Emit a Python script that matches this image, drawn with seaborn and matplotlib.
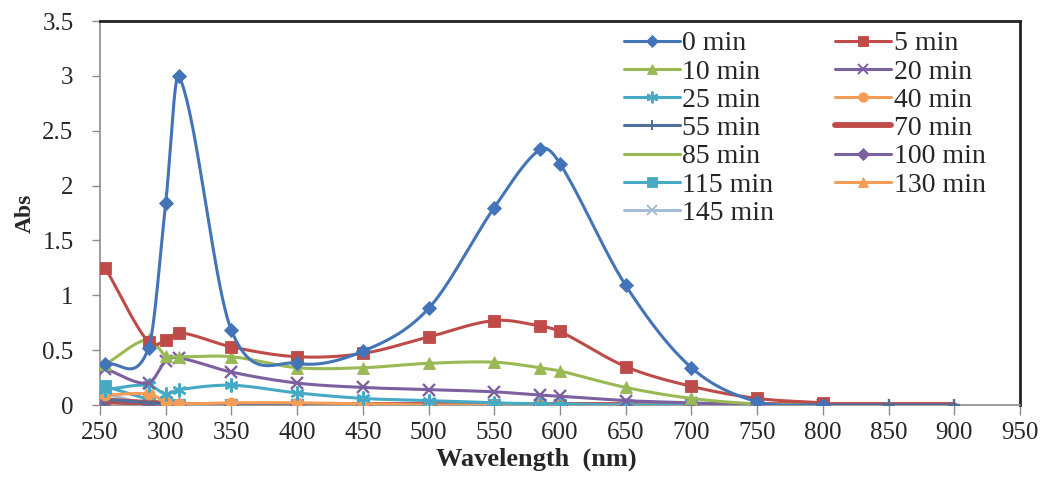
import numpy as np
import pandas as pd
import matplotlib
matplotlib.use("Agg")
import matplotlib.pyplot as plt
from matplotlib.lines import Line2D
import seaborn as sns

# Wavelengths (nm) at which absorbance was recorded
wl_full = [254, 287, 300, 310, 350, 400, 450, 500, 550, 585, 600, 650, 700, 750, 800]
wl_ext = wl_full + [850, 900]

# Absorbance per irradiation time
abs_0 = [0.37, 0.52, 1.84, 3.00, 0.68, 0.38, 0.49, 0.88, 1.80, 2.33, 2.20, 1.09, 0.34, 0.03, 0.00]
abs_5 = [1.25, 0.57, 0.59, 0.66, 0.53, 0.44, 0.47, 0.62, 0.77, 0.72, 0.67, 0.35, 0.17, 0.06, 0.02]
abs_10 = [0.37, 0.60, 0.45, 0.44, 0.44, 0.34, 0.34, 0.38, 0.39, 0.34, 0.31, 0.16, 0.06, 0.01, 0.00]
abs_20 = [0.33, 0.20, 0.40, 0.43, 0.30, 0.20, 0.16, 0.14, 0.12, 0.09, 0.08, 0.04, 0.02, 0.00, 0.00]
abs_25 = [0.14, 0.18, 0.10, 0.14, 0.18, 0.11, 0.06, 0.04, 0.02, 0.01, 0.01, 0.00, 0.00, 0.00, 0.00]
abs_40 = [0.09, 0.10, 0.03, 0.01, 0.02, 0.02, 0.01, 0.00, 0.00, 0.00, 0.00, 0.00, 0.00, 0.00, 0.00]
abs_55 = [0.05, 0.02, 0.01, 0.00, 0.00, 0.00, 0.00, 0.00, 0.00, 0.00, 0.00, 0.00, 0.00, 0.00, 0.00, 0.00, 0.00]
abs_70 = [0.04, 0.02, 0.01, 0.00, 0.00, 0.00, 0.00, 0.00, 0.00, 0.00, 0.00, 0.00, 0.00, 0.00, 0.00, 0.00, 0.00]
abs_85 = [0.03, 0.02, 0.01, 0.00, 0.00, 0.00, 0.00, 0.00, 0.00, 0.00, 0.00, 0.00, 0.00, 0.00, 0.00]
abs_100 = [0.03, 0.00, 0.00, 0.00, 0.00, 0.00, 0.00, 0.00, 0.00, 0.00, 0.00, 0.00, 0.00, 0.00, 0.00]
abs_115 = [0.17, 0.05, 0.01, 0.00, 0.00, 0.00, 0.00, 0.00, 0.00, 0.00, 0.00, 0.00, 0.00, 0.00, 0.00]
abs_130 = [0.02, 0.02, 0.01, 0.00, 0.00, 0.00, 0.00, 0.00, 0.00, 0.00, 0.00, 0.00, 0.00, 0.00, 0.00]
abs_145 = [0.10, 0.01, 0.01, 0.00, 0.00, 0.00, 0.00, 0.00, 0.00, 0.00, 0.00, 0.00, 0.00, 0.00, 0.00]

labels = ["0 min", "5 min", "10 min", "20 min", "25 min", "40 min", "55 min",
          "70 min", "85 min", "100 min", "115 min", "130 min", "145 min"]
values = [abs_0, abs_5, abs_10, abs_20, abs_25, abs_40, abs_55,
          abs_70, abs_85, abs_100, abs_115, abs_130, abs_145]

x_ticks = list(range(250, 951, 50))
y_ticks = [0, 0.5, 1, 1.5, 2, 2.5, 3, 3.5]
y_tick_labels = ["0", "0.5", "1", "1.5", "2", "2.5", "3", "3.5"]

# Style per series: colour, marker, marker size, line width
styles = [
    ("#4374B8", "D", 7.0, 2.2),
    ("#BE4B48", "s", 8.5, 2.2),
    ("#98B954", "^", 8.5, 2.2),
    ("#7D60A0", "x", 8.5, 2.2),
    ("#46AAC5", (6, 2, 0), 10.0, 2.2),
    ("#F59D56", "o", 8.0, 2.2),
    ("#4F6E9A", "+", 9.0, 2.2),
    ("#BE4B48", None, 0, 4.2),
    ("#98B954", None, 0, 2.2),
    ("#7D60A0", "D", 7.0, 2.2),
    ("#46AAC5", "s", 8.5, 2.2),
    ("#F59D56", "^", 8.5, 2.2),
    ("#A8BCD8", "x", 8.5, 2.2),
]


def smooth_curve(xs, ys, n=40):
    """Cubic Hermite curve through every point, slopes from neighbouring points."""
    xs = np.asarray(xs, float)
    ys = np.asarray(ys, float)
    m = np.empty_like(ys)
    m[1:-1] = (ys[2:] - ys[:-2]) / (xs[2:] - xs[:-2])
    m[0] = (ys[1] - ys[0]) / (xs[1] - xs[0])
    m[-1] = (ys[-1] - ys[-2]) / (xs[-1] - xs[-2])
    px, py = [], []
    for i in range(len(xs) - 1):
        h = xs[i + 1] - xs[i]
        t = np.linspace(0, 1, n, endpoint=(i == len(xs) - 2))
        h00 = 2 * t ** 3 - 3 * t ** 2 + 1
        h10 = t ** 3 - 2 * t ** 2 + t
        h01 = -2 * t ** 3 + 3 * t ** 2
        h11 = t ** 3 - t ** 2
        px.append(xs[i] + t * h)
        py.append(h00 * ys[i] + h10 * h * m[i] + h01 * ys[i + 1] + h11 * h * m[i + 1])
    return np.concatenate(px), np.concatenate(py)


sns.set_theme(style="white")
plt.rcParams["font.family"] = ["Liberation Serif", "DejaVu Serif"]

fig = plt.figure(figsize=(10.43, 4.87), dpi=100)
ax = fig.add_axes([100 / 1043, 82 / 487, 920 / 1043, 384 / 487])

handles = {}
# later series first so the stronger early spectra sit on top
for idx in reversed(range(len(labels))):
    lab = labels[idx]
    ys = values[idx]
    xs = wl_full if len(ys) == len(wl_full) else wl_ext
    color, marker, ms, lw = styles[idx]
    sx, sy = smooth_curve(xs, ys)
    df = pd.DataFrame({"wl": sx, "a": sy})
    z = 3 + (13 - idx) * 0.1
    sns.lineplot(data=df, x="wl", y="a", ax=ax, color=color, linewidth=lw,
                 sort=False, estimator=None, legend=False, zorder=z)
    thin = marker in ("x", "+", (6, 2, 0))
    if marker is not None:
        ax.plot(xs, ys, linestyle="none", marker=marker, markersize=ms, color=color,
                markeredgecolor=color, markeredgewidth=1.7 if thin else 0.6, zorder=z + 0.05)
    handles[lab] = Line2D([], [], color=color, linewidth=lw, marker=marker,
                          markersize=ms * 0.85 if marker else 0,
                          markeredgewidth=1.4 if thin else 0.6,
                          markeredgecolor=color)

ax.set_xlim(250, 950)
ax.set_ylim(0, 3.5)
ax.set_xticks(x_ticks)
ax.set_xticklabels([str(v) for v in x_ticks])
ax.set_yticks(y_ticks)
ax.set_yticklabels(y_tick_labels)
ax.tick_params(axis="both", which="major", labelsize=18, direction="out",
               width=1.0, color="#8C8C8C", bottom=True, left=True)
ax.tick_params(axis="x", length=7, pad=5)
ax.tick_params(axis="y", length=6, pad=13)

for side in ("left", "bottom"):
    ax.spines[side].set_color("#8C8C8C")
    ax.spines[side].set_linewidth(1.2)
for side in ("top", "right"):
    ax.spines[side].set_color("#222222")
    ax.spines[side].set_linewidth(2.0)

ax.set_xlabel("Wavelength  (nm)", fontsize=19, fontweight="bold")
ax.xaxis.set_label_coords(0.474, -0.112)
ax.set_ylabel("Abs", fontsize=17, fontweight="bold", labelpad=5)

# Legend filled row by row across two columns
col1 = ["0 min", "10 min", "25 min", "55 min", "85 min", "115 min", "145 min"]
col2 = ["5 min", "20 min", "40 min", "70 min", "100 min", "130 min"]
order = col1 + col2
leg = ax.legend([handles[k] for k in order], order, ncol=2, loc="upper left",
                bbox_to_anchor=(624 / 1043, 1 - 31 / 487), bbox_transform=fig.transFigure,
                frameon=False, fontsize=20, handlelength=2.0, handletextpad=0.1,
                labelspacing=0.1, columnspacing=2.2, borderpad=0, borderaxespad=0)

fig.savefig("out.png", dpi=100)
